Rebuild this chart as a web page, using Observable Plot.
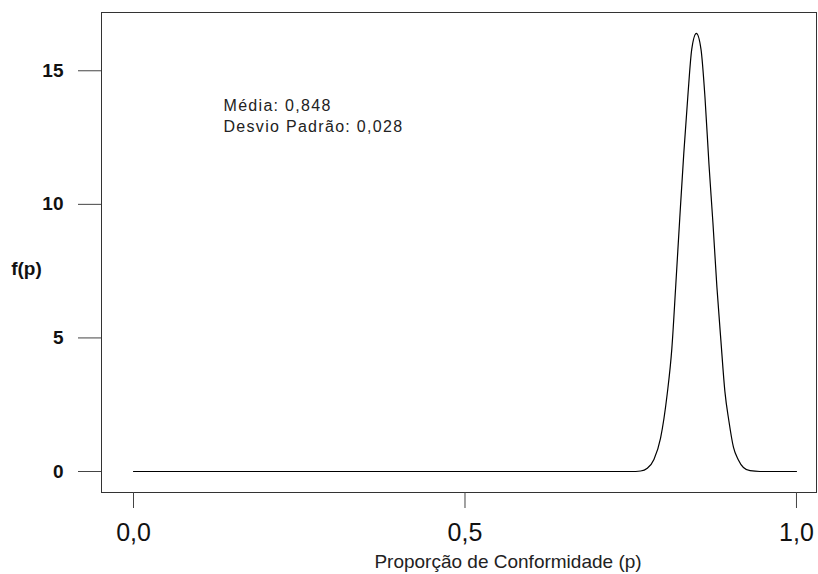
<!DOCTYPE html>
<html>
<head>
<meta charset="utf-8">
<script src="https://cdn.jsdelivr.net/npm/d3@7"></script>
<script src="https://cdn.jsdelivr.net/npm/@observablehq/plot@0.6"></script>
<style>
  html, body { margin: 0; padding: 0; background: #fff; }
  svg { display: block; }
</style>
</head>
<body>
<div id="chart"></div>
<script>
// Values
const pValues = [0.00, 0.25, 0.50, 0.70, 0.75, 0.765, 0.775, 0.785, 0.795, 0.805, 0.812, 0.818, 0.824, 0.830, 0.836, 0.842, 0.849, 0.856, 0.862, 0.868, 0.874, 0.880, 0.886, 0.892, 0.898, 0.905, 0.912, 0.920, 0.930, 0.945, 1.00];
const fValues = [0, 0, 0, 0, 0, 0.02, 0.12, 0.45, 1.25, 2.9, 4.6, 7.0, 9.5, 11.9, 14.0, 15.8, 16.4, 15.8, 14.0, 11.5, 9.3, 6.9, 4.9, 3.0, 1.9, 0.9, 0.45, 0.15, 0.03, 0, 0];
const xTicks = [0, 0.5, 1];
const xTickLabels = ["0,0", "0,5", "1,0"];
const yTicks = [0, 5, 10, 15];
const annotationLines = ["Média: 0,848", "Desvio Padrão: 0,028"];
const xTitle = "Proporção de Conformidade (p)";
const yTitle = "f(p)";

const data = pValues.map((p, i) => ({p, f: fValues[i]}));

const chart = Plot.plot({
  width: 818,
  height: 574,
  marginLeft: 101,
  marginRight: 2,
  marginTop: 12,
  marginBottom: 82,
  style: {fontFamily: "'Liberation Sans', Arial, sans-serif", background: "#fff"},
  x: {domain: [-0.04827, 1.0302]},
  y: {domain: [-0.7856, 17.181]},
  marks: [
    Plot.frame({stroke: "#333", strokeWidth: 1}),
    Plot.axisX(xTicks, {
      anchor: "bottom", tickSize: 16, tickPadding: 15, stroke: "#444",
      tickFormat: (d) => xTickLabels[xTicks.indexOf(d)],
      fontSize: 25, fill: "#111", label: null
    }),
    Plot.axisY(yTicks, {
      anchor: "left", tickSize: 23, tickPadding: 15, stroke: "#444",
      fontSize: 19, fontWeight: "bold", fill: "#111", label: null
    }),
    Plot.line(data, {x: "p", y: "f", curve: "monotone-x", stroke: "#000", strokeWidth: 1.2}),
    Plot.text([annotationLines.join("\n")], {
      frameAnchor: "top-left", dx: 122, dy: 83, lineAnchor: "top",
      textAnchor: "start", lineHeight: 1.35, fontSize: 16, fill: "#222"
    }),
    Plot.text([xTitle], {
      frameAnchor: "bottom", dx: 49, dy: 75, textAnchor: "middle",
      fontSize: 19, fill: "#222"
    }),
    Plot.text([yTitle], {
      frameAnchor: "left", dx: -75, dy: 16, textAnchor: "middle",
      fontSize: 19, fontWeight: "bold", fill: "#111"
    })
  ]
});
document.getElementById("chart").append(chart);
// widen the annotation's letter spacing to match the original rendering
d3.select(chart).selectAll("text")
  .filter(function () { return annotationLines.some(s => this.textContent.includes(s)); })
  .attr("letter-spacing", "1.3px");
</script>
</body>
</html>
